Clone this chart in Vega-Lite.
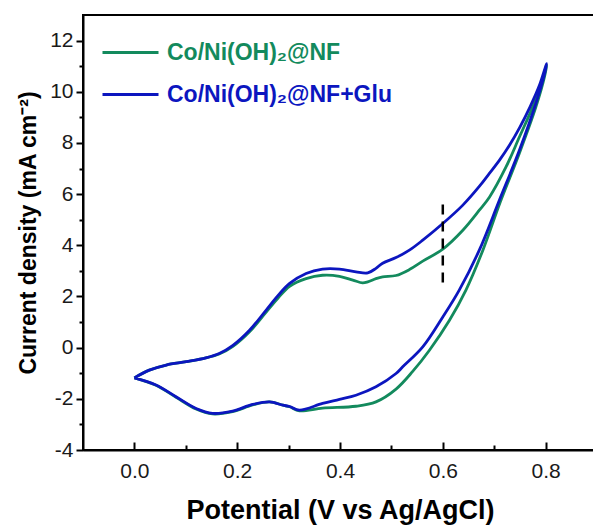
{
  "$schema": "https://vega.github.io/schema/vega-lite/v6.json",
  "width": 514,
  "height": 435,
  "autosize": {"type": "none"},
  "padding": {"left": 83, "top": 15, "right": 0, "bottom": 78},
  "config": {"view": {"stroke": "#000", "strokeWidth": 2}, "font": "Liberation Sans"},
  "data": {"values": [
    {"s": "Co/Ni(OH)₂@NF", "o": 1, "x": 0.000, "y": -1.18},
    {"s": "Co/Ni(OH)₂@NF", "o": 2, "x": 0.029, "y": -0.88},
    {"s": "Co/Ni(OH)₂@NF", "o": 3, "x": 0.062, "y": -0.68},
    {"s": "Co/Ni(OH)₂@NF", "o": 4, "x": 0.101, "y": -0.55},
    {"s": "Co/Ni(OH)₂@NF", "o": 5, "x": 0.139, "y": -0.40},
    {"s": "Co/Ni(OH)₂@NF", "o": 6, "x": 0.165, "y": -0.25},
    {"s": "Co/Ni(OH)₂@NF", "o": 7, "x": 0.191, "y": 0.04},
    {"s": "Co/Ni(OH)₂@NF", "o": 8, "x": 0.224, "y": 0.62},
    {"s": "Co/Ni(OH)₂@NF", "o": 9, "x": 0.256, "y": 1.38},
    {"s": "Co/Ni(OH)₂@NF", "o": 10, "x": 0.280, "y": 1.95},
    {"s": "Co/Ni(OH)₂@NF", "o": 11, "x": 0.302, "y": 2.40},
    {"s": "Co/Ni(OH)₂@NF", "o": 12, "x": 0.334, "y": 2.70},
    {"s": "Co/Ni(OH)₂@NF", "o": 13, "x": 0.366, "y": 2.83},
    {"s": "Co/Ni(OH)₂@NF", "o": 14, "x": 0.399, "y": 2.79},
    {"s": "Co/Ni(OH)₂@NF", "o": 15, "x": 0.425, "y": 2.64},
    {"s": "Co/Ni(OH)₂@NF", "o": 16, "x": 0.444, "y": 2.53},
    {"s": "Co/Ni(OH)₂@NF", "o": 17, "x": 0.454, "y": 2.57},
    {"s": "Co/Ni(OH)₂@NF", "o": 18, "x": 0.470, "y": 2.70},
    {"s": "Co/Ni(OH)₂@NF", "o": 19, "x": 0.483, "y": 2.77},
    {"s": "Co/Ni(OH)₂@NF", "o": 20, "x": 0.509, "y": 2.82},
    {"s": "Co/Ni(OH)₂@NF", "o": 21, "x": 0.535, "y": 3.05},
    {"s": "Co/Ni(OH)₂@NF", "o": 22, "x": 0.561, "y": 3.38},
    {"s": "Co/Ni(OH)₂@NF", "o": 23, "x": 0.600, "y": 3.85},
    {"s": "Co/Ni(OH)₂@NF", "o": 24, "x": 0.639, "y": 4.59},
    {"s": "Co/Ni(OH)₂@NF", "o": 25, "x": 0.671, "y": 5.37},
    {"s": "Co/Ni(OH)₂@NF", "o": 26, "x": 0.691, "y": 5.89},
    {"s": "Co/Ni(OH)₂@NF", "o": 27, "x": 0.723, "y": 7.06},
    {"s": "Co/Ni(OH)₂@NF", "o": 28, "x": 0.749, "y": 8.23},
    {"s": "Co/Ni(OH)₂@NF", "o": 29, "x": 0.775, "y": 9.41},
    {"s": "Co/Ni(OH)₂@NF", "o": 30, "x": 0.794, "y": 10.45},
    {"s": "Co/Ni(OH)₂@NF", "o": 31, "x": 0.802, "y": 11.05},
    {"s": "Co/Ni(OH)₂@NF", "o": 32, "x": 0.798, "y": 10.60},
    {"s": "Co/Ni(OH)₂@NF", "o": 33, "x": 0.781, "y": 9.40},
    {"s": "Co/Ni(OH)₂@NF", "o": 34, "x": 0.749, "y": 7.60},
    {"s": "Co/Ni(OH)₂@NF", "o": 35, "x": 0.712, "y": 5.70},
    {"s": "Co/Ni(OH)₂@NF", "o": 36, "x": 0.678, "y": 3.81},
    {"s": "Co/Ni(OH)₂@NF", "o": 37, "x": 0.645, "y": 2.25},
    {"s": "Co/Ni(OH)₂@NF", "o": 38, "x": 0.613, "y": 1.07},
    {"s": "Co/Ni(OH)₂@NF", "o": 39, "x": 0.574, "y": -0.10},
    {"s": "Co/Ni(OH)₂@NF", "o": 40, "x": 0.541, "y": -0.94},
    {"s": "Co/Ni(OH)₂@NF", "o": 41, "x": 0.509, "y": -1.62},
    {"s": "Co/Ni(OH)₂@NF", "o": 42, "x": 0.470, "y": -2.12},
    {"s": "Co/Ni(OH)₂@NF", "o": 43, "x": 0.431, "y": -2.29},
    {"s": "Co/Ni(OH)₂@NF", "o": 44, "x": 0.366, "y": -2.36},
    {"s": "Co/Ni(OH)₂@NF", "o": 45, "x": 0.321, "y": -2.47},
    {"s": "Co/Ni(OH)₂@NF", "o": 46, "x": 0.302, "y": -2.31},
    {"s": "Co/Ni(OH)₂@NF", "o": 47, "x": 0.289, "y": -2.25},
    {"s": "Co/Ni(OH)₂@NF", "o": 48, "x": 0.263, "y": -2.12},
    {"s": "Co/Ni(OH)₂@NF", "o": 49, "x": 0.230, "y": -2.24},
    {"s": "Co/Ni(OH)₂@NF", "o": 50, "x": 0.191, "y": -2.50},
    {"s": "Co/Ni(OH)₂@NF", "o": 51, "x": 0.152, "y": -2.59},
    {"s": "Co/Ni(OH)₂@NF", "o": 52, "x": 0.120, "y": -2.40},
    {"s": "Co/Ni(OH)₂@NF", "o": 53, "x": 0.081, "y": -1.94},
    {"s": "Co/Ni(OH)₂@NF", "o": 54, "x": 0.042, "y": -1.47},
    {"s": "Co/Ni(OH)₂@NF", "o": 55, "x": 0.000, "y": -1.18},
    {"s": "Co/Ni(OH)₂@NF+Glu", "o": 1, "x": 0.000, "y": -1.18},
    {"s": "Co/Ni(OH)₂@NF+Glu", "o": 2, "x": 0.029, "y": -0.88},
    {"s": "Co/Ni(OH)₂@NF+Glu", "o": 3, "x": 0.062, "y": -0.68},
    {"s": "Co/Ni(OH)₂@NF+Glu", "o": 4, "x": 0.101, "y": -0.55},
    {"s": "Co/Ni(OH)₂@NF+Glu", "o": 5, "x": 0.139, "y": -0.40},
    {"s": "Co/Ni(OH)₂@NF+Glu", "o": 6, "x": 0.165, "y": -0.23},
    {"s": "Co/Ni(OH)₂@NF+Glu", "o": 7, "x": 0.191, "y": 0.08},
    {"s": "Co/Ni(OH)₂@NF+Glu", "o": 8, "x": 0.224, "y": 0.68},
    {"s": "Co/Ni(OH)₂@NF+Glu", "o": 9, "x": 0.256, "y": 1.46},
    {"s": "Co/Ni(OH)₂@NF+Glu", "o": 10, "x": 0.280, "y": 2.05},
    {"s": "Co/Ni(OH)₂@NF+Glu", "o": 11, "x": 0.302, "y": 2.51},
    {"s": "Co/Ni(OH)₂@NF+Glu", "o": 12, "x": 0.334, "y": 2.90},
    {"s": "Co/Ni(OH)₂@NF+Glu", "o": 13, "x": 0.366, "y": 3.07},
    {"s": "Co/Ni(OH)₂@NF+Glu", "o": 14, "x": 0.399, "y": 3.07},
    {"s": "Co/Ni(OH)₂@NF+Glu", "o": 15, "x": 0.431, "y": 2.96},
    {"s": "Co/Ni(OH)₂@NF+Glu", "o": 16, "x": 0.454, "y": 2.92},
    {"s": "Co/Ni(OH)₂@NF+Glu", "o": 17, "x": 0.470, "y": 3.10},
    {"s": "Co/Ni(OH)₂@NF+Glu", "o": 18, "x": 0.483, "y": 3.30},
    {"s": "Co/Ni(OH)₂@NF+Glu", "o": 19, "x": 0.509, "y": 3.52},
    {"s": "Co/Ni(OH)₂@NF+Glu", "o": 20, "x": 0.535, "y": 3.81},
    {"s": "Co/Ni(OH)₂@NF+Glu", "o": 21, "x": 0.561, "y": 4.20},
    {"s": "Co/Ni(OH)₂@NF+Glu", "o": 22, "x": 0.600, "y": 4.85},
    {"s": "Co/Ni(OH)₂@NF+Glu", "o": 23, "x": 0.639, "y": 5.57},
    {"s": "Co/Ni(OH)₂@NF+Glu", "o": 24, "x": 0.671, "y": 6.30},
    {"s": "Co/Ni(OH)₂@NF+Glu", "o": 25, "x": 0.691, "y": 6.82},
    {"s": "Co/Ni(OH)₂@NF+Glu", "o": 26, "x": 0.710, "y": 7.32},
    {"s": "Co/Ni(OH)₂@NF+Glu", "o": 27, "x": 0.730, "y": 7.92},
    {"s": "Co/Ni(OH)₂@NF+Glu", "o": 28, "x": 0.750, "y": 8.62},
    {"s": "Co/Ni(OH)₂@NF+Glu", "o": 29, "x": 0.770, "y": 9.42},
    {"s": "Co/Ni(OH)₂@NF+Glu", "o": 30, "x": 0.788, "y": 10.25},
    {"s": "Co/Ni(OH)₂@NF+Glu", "o": 31, "x": 0.802, "y": 11.10},
    {"s": "Co/Ni(OH)₂@NF+Glu", "o": 32, "x": 0.798, "y": 10.71},
    {"s": "Co/Ni(OH)₂@NF+Glu", "o": 33, "x": 0.781, "y": 9.54},
    {"s": "Co/Ni(OH)₂@NF+Glu", "o": 34, "x": 0.749, "y": 7.71},
    {"s": "Co/Ni(OH)₂@NF+Glu", "o": 35, "x": 0.710, "y": 5.76},
    {"s": "Co/Ni(OH)₂@NF+Glu", "o": 36, "x": 0.671, "y": 3.81},
    {"s": "Co/Ni(OH)₂@NF+Glu", "o": 37, "x": 0.632, "y": 2.25},
    {"s": "Co/Ni(OH)₂@NF+Glu", "o": 38, "x": 0.600, "y": 1.20},
    {"s": "Co/Ni(OH)₂@NF+Glu", "o": 39, "x": 0.561, "y": 0.03},
    {"s": "Co/Ni(OH)₂@NF+Glu", "o": 40, "x": 0.522, "y": -0.75},
    {"s": "Co/Ni(OH)₂@NF+Glu", "o": 41, "x": 0.509, "y": -1.01},
    {"s": "Co/Ni(OH)₂@NF+Glu", "o": 42, "x": 0.470, "y": -1.53},
    {"s": "Co/Ni(OH)₂@NF+Glu", "o": 43, "x": 0.431, "y": -1.86},
    {"s": "Co/Ni(OH)₂@NF+Glu", "o": 44, "x": 0.399, "y": -2.02},
    {"s": "Co/Ni(OH)₂@NF+Glu", "o": 45, "x": 0.366, "y": -2.18},
    {"s": "Co/Ni(OH)₂@NF+Glu", "o": 46, "x": 0.321, "y": -2.44},
    {"s": "Co/Ni(OH)₂@NF+Glu", "o": 47, "x": 0.302, "y": -2.30},
    {"s": "Co/Ni(OH)₂@NF+Glu", "o": 48, "x": 0.289, "y": -2.25},
    {"s": "Co/Ni(OH)₂@NF+Glu", "o": 49, "x": 0.263, "y": -2.12},
    {"s": "Co/Ni(OH)₂@NF+Glu", "o": 50, "x": 0.230, "y": -2.22},
    {"s": "Co/Ni(OH)₂@NF+Glu", "o": 51, "x": 0.191, "y": -2.48},
    {"s": "Co/Ni(OH)₂@NF+Glu", "o": 52, "x": 0.152, "y": -2.57},
    {"s": "Co/Ni(OH)₂@NF+Glu", "o": 53, "x": 0.120, "y": -2.38},
    {"s": "Co/Ni(OH)₂@NF+Glu", "o": 54, "x": 0.081, "y": -1.92},
    {"s": "Co/Ni(OH)₂@NF+Glu", "o": 55, "x": 0.042, "y": -1.46},
    {"s": "Co/Ni(OH)₂@NF+Glu", "o": 56, "x": 0.000, "y": -1.18}
  ]},
  "layer": [
    {
      "mark": {"type": "line", "interpolate": "catmull-rom", "strokeWidth": 2.8, "clip": true},
      "encoding": {
        "x": {"field": "x", "type": "quantitative",
          "scale": {"domain": [-0.1, 0.9], "nice": false, "zero": false},
          "axis": {"orient": "bottom", "title": "Potential (V vs Ag/AgCl)", "values": [0, 0.2, 0.4, 0.6, 0.8], "format": ".1f",
            "grid": false, "domainColor": "#000", "domainWidth": 2, "tickColor": "#000", "tickWidth": 2, "tickSize": -8,
            "labelFontSize": 21, "labelColor": "#1a1a1a", "labelPadding": 18, "labelFont": "Liberation Sans",
            "titleFontSize": 27, "titleFontWeight": "bold", "titleColor": "#000", "titlePadding": 16, "titleFont": "Liberation Sans"}},
        "y": {"field": "y", "type": "quantitative",
          "scale": {"domain": [-4, 13], "nice": false, "zero": false},
          "axis": {"orient": "left", "title": "Current density (mA cm⁻²)", "values": [-4, -2, 0, 2, 4, 6, 8, 10, 12],
            "labelExpr": "replace(datum.label, '−', '-')",
            "grid": false, "domainColor": "#000", "domainWidth": 2, "tickColor": "#000", "tickWidth": 2, "tickSize": 7,
            "labelFontSize": 21, "labelColor": "#1a1a1a", "labelPadding": 3, "labelFont": "Liberation Sans",
            "titleFontSize": 23, "titleFontWeight": "bold", "titleColor": "#000", "titlePadding": 9, "titleFont": "Liberation Sans"}},
        "color": {"field": "s", "type": "nominal",
          "scale": {"domain": ["Co/Ni(OH)₂@NF", "Co/Ni(OH)₂@NF+Glu"], "range": ["#138a5d", "#0c16bf"]},
          "legend": {"orient": "none", "legendX": 18, "legendY": 8, "title": null, "symbolType": "stroke", "symbolSize": 3136,
            "symbolStrokeWidth": 3, "labelFontSize": 23, "labelFontWeight": "bold", "labelFont": "Liberation Sans", "labelOffset": 7,
            "rowPadding": -13, "labelLimit": 400,
            "encode": {"labels": {"update": {"fill": {"signal": "datum.value === 'Co/Ni(OH)₂@NF' ? '#138a5d' : '#0c16bf'"}}}}}},
        "order": {"field": "o", "type": "quantitative"}
      }
    },
    {
      "data": {"values": [{"x": 0.6, "y": 2.55, "y2": 5.75}]},
      "mark": {"type": "rule", "strokeDash": [10, 7], "strokeWidth": 2.5, "color": "#000"},
      "encoding": {
        "x": {"field": "x", "type": "quantitative", "axis": null},
        "y": {"field": "y", "type": "quantitative", "axis": null},
        "y2": {"field": "y2"}
      }
    },
    {
      "mark": {"type": "point", "opacity": 0},
      "encoding": {
        "x": {"field": "x", "type": "quantitative",
          "axis": {"orient": "bottom", "values": [0.1, 0.3, 0.5, 0.7], "labels": false, "domain": false, "grid": false, "title": null,
            "tickSize": -5, "tickWidth": 2, "tickColor": "#000"}},
        "y": {"field": "y", "type": "quantitative",
          "axis": {"orient": "left", "values": [-3, -1, 1, 3, 5, 7, 9, 11], "labels": false, "domain": false, "grid": false, "title": null,
            "tickSize": 4, "tickWidth": 2, "tickColor": "#000"}}
      }
    }
  ],
  "resolve": {"axis": {"x": "independent", "y": "independent"}}
}
